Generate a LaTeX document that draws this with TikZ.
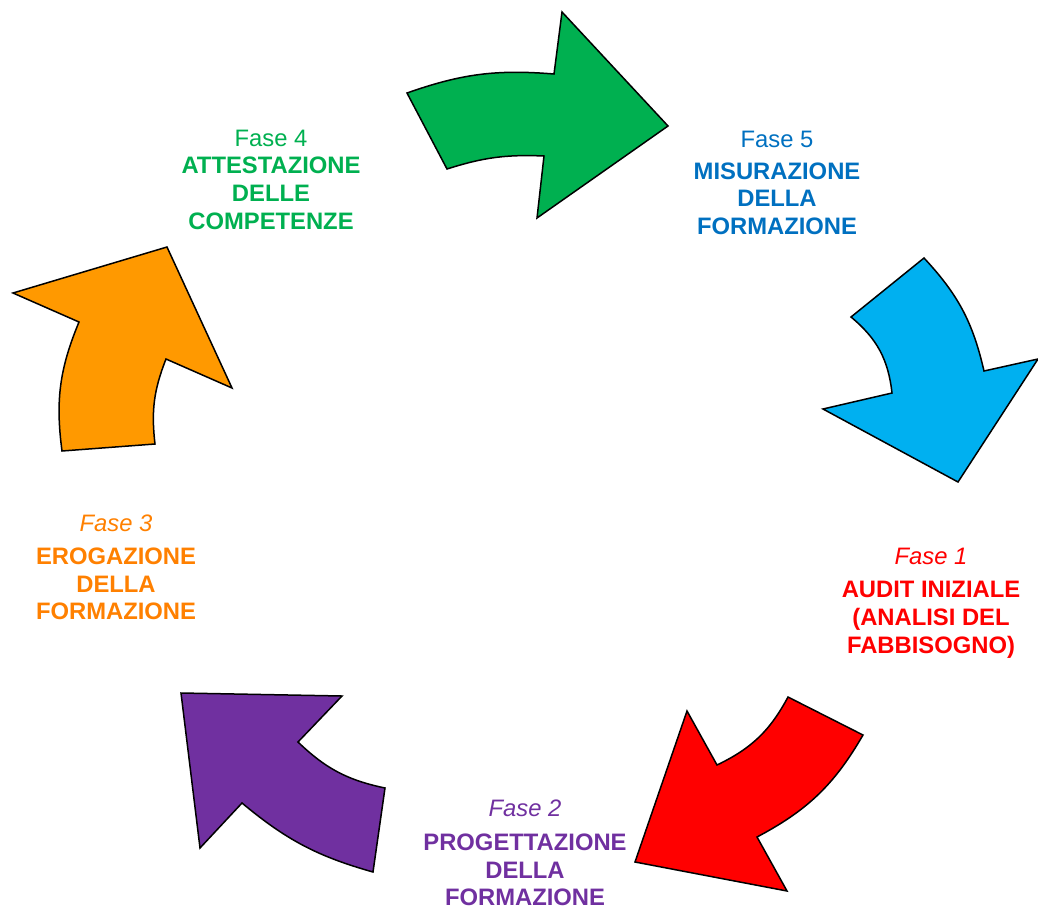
\documentclass[tikz,border=0pt]{standalone}
\usepackage{fontspec}
\setmainfont{Liberation Sans}
\definecolor{verde}{RGB}{0,176,80}
\definecolor{azzurro}{RGB}{0,176,240}
\definecolor{blu}{RGB}{0,112,192}
\definecolor{rosso}{RGB}{255,0,0}
\definecolor{viola}{RGB}{112,48,160}
\definecolor{arancio}{RGB}{255,153,0}
\definecolor{arancioscuro}{RGB}{255,128,0}
\begin{document}
\begin{tikzpicture}[x=1pt, y=-1pt,
	freccia/.style={draw=black, line width=1.5pt, line join=miter},
	fase/.style={align=center, inner sep=0pt, font=\fontsize{23.8}{27.7}\selectfont\bfseries}]
		\useasboundingbox (0,0) rectangle (1038,910);
		% frecce
		\draw[freccia, fill=verde] (407,93) to[bend left=12] (554,74) -- (562,12) -- (668,126) -- (537,218) -- (544,156) to[bend right=10] (447,169) -- cycle;
		\draw[freccia, fill=azzurro] (924,258) to[bend left=15] (984,371) -- (1038,359) -- (958,482) -- (823,409) -- (892,393) to[bend right=22] (851,317) -- cycle;
		\draw[freccia, fill=rosso] (788,697) -- (863,735) to[bend left=16] (757,837) -- (787,891) -- (635,862) -- (687,711) -- (717,765) to[bend right=18] cycle;
		\draw[freccia, fill=viola] (181,693) -- (342,696) -- (298,742) to[bend right=16] (385,788) -- (373,872) to[bend left=12] (242,803) -- (200,848) -- cycle;
		\draw[freccia, fill=arancio] (13,293) -- (167,247) -- (232,388) -- (166,359) to[bend right=14] (155,444) -- (62,451) to[bend left=15] (79,322) -- cycle;
		% testi
		\node[fase, text=rosso] (fase1) at (931,603) {{\mdseries\itshape Fase 1}\\[6pt] AUDIT INIZIALE\\ (ANALISI DEL\\ FABBISOGNO)};
		\node[fase, text=viola] (fase2) at (525,853) {{\mdseries\itshape Fase 2}\\[6pt] PROGETTAZIONE\\ DELLA\\ FORMAZIONE};
		\node[fase, text=arancioscuro] (fase3) at (116,567.5) {{\mdseries\itshape Fase 3}\\[5pt] EROGAZIONE\\ DELLA\\ FORMAZIONE};
		\node[fase, text=verde] (fase4) at (271,179.5) {{\mdseries Fase 4}\\ ATTESTAZIONE\\ DELLE\\ COMPETENZE};
		\node[fase, text=blu] (fase5) at (777,183) {{\mdseries Fase 5}\\[4pt] MISURAZIONE\\ DELLA\\ FORMAZIONE};
\end{tikzpicture}
\end{document}
